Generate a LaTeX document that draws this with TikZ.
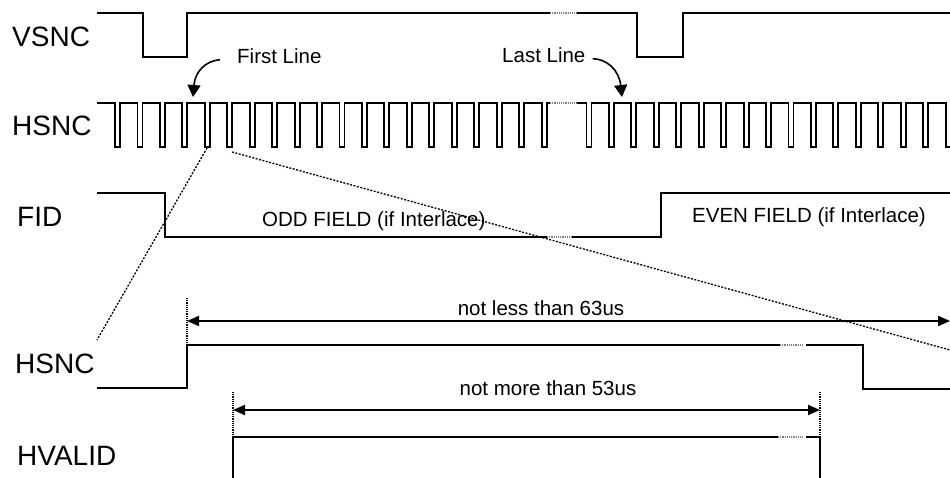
\documentclass[tikz,border=0pt]{standalone}
\usepackage{fontspec}
\setmainfont{Liberation Sans}
\usetikzlibrary{arrows.meta}

\begin{document}
\begin{tikzpicture}[x=1pt, y=-1pt,
    sig/.style={line width=1.9pt},
    brk/.style={line width=1.2pt, densely dotted, gray},
    zoomln/.style={line width=1.3pt, dash pattern=on 2pt off 1.5pt},
    ext/.style={line width=1.2pt, densely dotted},
    dim/.style={line width=1.9pt, <->, >={Triangle[length=12pt,width=10pt]}},
    curv/.style={line width=1.6pt, ->, >={Triangle[length=12pt,width=13pt]}},
    signame/.style={font=\fontsize{28}{32}\selectfont, inner sep=0pt, anchor=base west},
    note/.style={font=\fontsize{20.5}{24}\selectfont, inner sep=0pt}]
    \useasboundingbox (0,0) rectangle (950,478);
    % Signal names
    \node[signame] (vsnc) at (12,47) {VSNC};
    \node[signame] (hsnc) at (12,136) {HSNC};
    \node[signame] (fid) at (17,227) {FID};
    \node[signame] (hsncz) at (15,373) {HSNC};
    \node[signame] (hvalid) at (17,465) {HVALID};
    % VSNC
    \draw[sig] (97,13) -- (143,13) -- (143,57) -- (187,57) -- (187,13) -- (550,13);
    \draw[brk] (550,13) -- (577,13);
    \draw[sig] (577,13) -- (637,13) -- (637,57) -- (683,57) -- (683,13) -- (950,13);
    % HSNC pulse train
    \draw[sig] (97,103) \foreach \k in {0,...,19} { -- ({115+22.45*\k},103) -- ++(0,44) -- ++(5,0) -- ++(0,-44) } -- (550,103);
    \draw[brk] (550,103) -- (577,103);
    \draw[sig] (577,103) \foreach \k in {21,...,37} { -- ({115+22.45*\k},103) -- ++(0,44) -- ++(5,0) -- ++(0,-44) } -- (950,103);
    % First / last line markers
    \node[note, anchor=base west] (first) at (237,64) {First Line};
    \node[note, anchor=base west] (last) at (502,63) {Last Line};
    \coordinate (firstTip) at (193,97);
    \coordinate (lastTip) at (622,97);
    \draw[curv] ([xshift=-17pt,yshift=-3pt]first.west) .. controls (205,61) and (195,72) .. (firstTip);
    \draw[curv] ([xshift=7pt,yshift=-3pt]last.east) .. controls (607,59) and (619,70) .. (lastTip);
    % FID
    \draw[sig] (97,193) -- (165,193) -- (165,237) -- (547,237);
    \draw[brk] (547,237) -- (572,237);
    \draw[sig] (572,237) -- (661,237) -- (661,193) -- (950,193);
    \node[note, anchor=base west] (odd) at (262,227) {ODD FIELD (if Interlace)};
    \node[note, anchor=base west] (even) at (692,223) {EVEN FIELD (if Interlace)};
    % Zoom lines
    \coordinate (zA) at (207,148);
    \coordinate (zB) at (97,340);
    \coordinate (zC) at (232,152);
    \coordinate (zD) at (950,350);
    \draw[zoomln] (zA) -- (zB);
    \draw[zoomln] (zC) -- (zD);
    % HSNC (one line)
    \draw[sig] (97,388) -- (187,388) -- (187,345) -- (780,345);
    \draw[brk] (780,345) -- (803,345);
    \draw[sig] (806,345) -- (863,345) -- (863,389) -- (950,389);
    \coordinate (lineL) at (187,321);
    \coordinate (lineR) at (950,321);
    \draw[ext] (187,298) -- (187,345);
    \draw[dim] (lineL) -- (lineR);
    \node[note, anchor=base] (tmin) at (541,315) {not less than 63us};
    % HVALID
    \draw[sig] (233,478) -- (233,437) -- (778,437);
    \draw[brk] (778,437) -- (803,437);
    \draw[sig] (806,437) -- (820,437) -- (820,478);
    \coordinate (validL) at (233,410);
    \coordinate (validR) at (820,410);
    \draw[ext] (233,392) -- (233,437);
    \draw[ext] (820,392) -- (820,437);
    \draw[dim] (validL) -- (validR);
    \node[note, anchor=base] (tmax) at (548,395) {not more than 53us};
\end{tikzpicture}
\end{document}
